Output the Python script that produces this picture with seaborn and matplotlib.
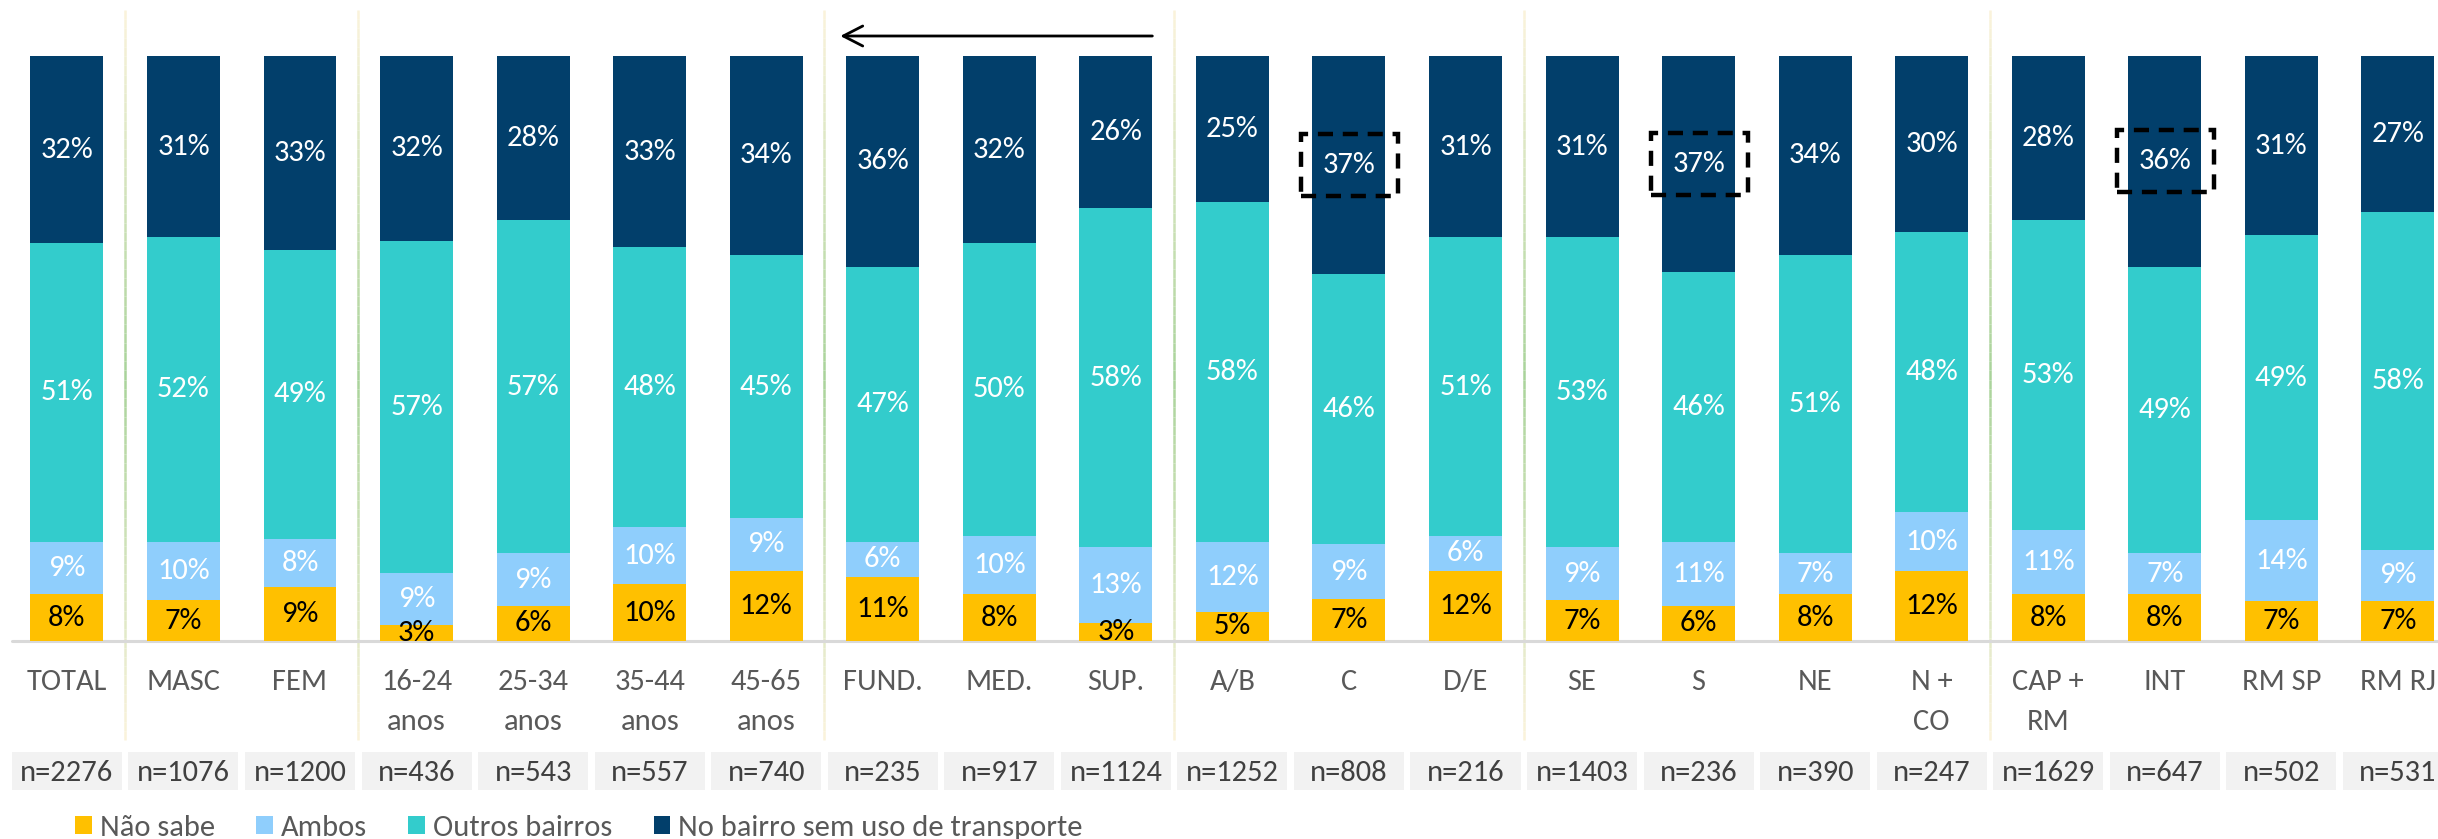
import numpy as np
import pandas as pd
import matplotlib
matplotlib.use("Agg")
import matplotlib.pyplot as plt
import seaborn as sns
from matplotlib import font_manager
from matplotlib.transforms import blended_transform_factory
from matplotlib.patches import Rectangle, Patch
from matplotlib.collections import LineCollection
from matplotlib.colors import to_rgb

# ---------------- data ----------------
categories = ['TOTAL', 'MASC', 'FEM', '16-24\nanos', '25-34\nanos', '35-44\nanos',
              '45-65\nanos', 'FUND.', 'MED.', 'SUP.', 'A/B', 'C', 'D/E', 'SE', 'S',
              'NE', 'N +\nCO', 'CAP +\nRM', 'INT', 'RM SP', 'RM RJ']
sample_sizes = ['n=2276', 'n=1076', 'n=1200', 'n=436', 'n=543', 'n=557', 'n=740',
                'n=235', 'n=917', 'n=1124', 'n=1252', 'n=808', 'n=216', 'n=1403',
                'n=236', 'n=390', 'n=247', 'n=1629', 'n=647', 'n=502', 'n=531']

series_names = ['Não sabe', 'Ambos', 'Outros bairros', 'No bairro sem uso de transporte']
nao_sabe = [8, 7, 9.3, 2.8, 6, 9.7, 12, 11, 8, 3, 5, 7.2, 12, 7, 6, 8, 12, 8, 8, 6.8, 6.8]
ambos = [9, 10, 8.2, 8.8, 9, 9.8, 9, 6, 10, 13, 12, 9.3, 6, 9, 11, 7, 10, 11, 7, 13.8, 8.8]
outros_bairros = [51, 52, 49.3, 56.8, 57, 47.8, 45, 47, 50, 58, 58, 46.3, 51, 53, 46, 51,
                  48, 53, 49, 48.8, 57.8]
no_bairro = [32, 31, 33.2, 31.6, 28, 32.7, 34, 36, 32, 26, 25, 37.2, 31, 31, 37, 34, 30,
             28, 36, 30.6, 26.6]
highlighted = ['C', 'S', 'INT']          # top-segment labels framed with a dashed box
group_breaks_after = ['TOTAL', 'FEM', '45-65\nanos', 'SUP.', 'D/E', 'N +\nCO']
arrow_span = ('SUP.', 'FUND.')           # arrow drawn from right to left above these

series_values = [nao_sabe, ambos, outros_bairros, no_bairro]
series_colors = ['#FFC000', '#8FCEFC', '#33CCCC', '#023F6B']
label_colors = ['#000000', '#FFFFFF', '#FFFFFF', '#FFFFFF']

# ---------------- style ----------------
sns.set_style("white")
available = {f.name for f in font_manager.fontManager.ttflist}
FONT, FS = 'Lato', 20
for cand, size in [('Carlito', 22), ('Liberation Sans Narrow', 22), ('Lato', 20)]:
    if cand in available:
        FONT, FS = cand, size
        break
plt.rcParams['font.family'] = [FONT, 'DejaVu Sans']

W, H = 2438, 839
fig = plt.figure(figsize=(W / 100, H / 100), dpi=100)
fig.patch.set_facecolor('white')
base_px, top_px = 641, 56
ax = fig.add_axes([0, (H - base_px) / H, 1, (base_px - top_px) / H])

n = len(categories)
bottom = np.zeros(n)
for name, vals, col in zip(series_names, series_values, series_colors):
    sns.barplot(x=categories, y=vals, color=col, saturation=1, width=0.626,
                bottom=bottom.copy(), ax=ax, errorbar=None, linewidth=0, order=categories)
    bottom = bottom + np.asarray(vals, dtype=float)

for cont, vals, tc in zip(ax.containers, series_values, label_colors):
    ax.bar_label(cont, labels=[f'{v:.0f}%' for v in vals], label_type='center',
                 color=tc, fontsize=FS)

spacing_px = 116.55
first_px = 66.9
ax.set_xlim(-first_px / spacing_px, -first_px / spacing_px + W / spacing_px)
ax.set_ylim(0, 100)
for s in ax.spines.values():
    s.set_visible(False)
ax.set_yticks([])
ax.set_ylabel('')
ax.set_xticks(range(n))
ax.set_xticklabels(categories, color='#595959', fontsize=FS)
for t in ax.get_xticklabels():
    t.set_linespacing(1.7)
ax.tick_params(axis='x', length=0, pad=20)
ax.axhline(0, xmin=12 / W, xmax=1, color='#D9D9D9', lw=2.2, zorder=0.5, clip_on=False)

trans = blended_transform_factory(ax.transData, fig.transFigure)

def fy(px):
    return 1 - px / H

# sample-size boxes
for i, lab in enumerate(sample_sizes):
    ax.add_patch(Rectangle((i - 0.472, fy(790)), 0.944, fy(752) - fy(790), transform=trans,
                           facecolor='#F2F2F2', edgecolor='none', clip_on=False, zorder=1))
    ax.text(i, fy(773), lab, transform=trans, ha='center', va='center',
            fontsize=FS, color='#404040', clip_on=False)

# faint gradient separators between groups
c_end = np.array(to_rgb('#FBF3DC'))
c_mid = np.array(to_rgb('#A9D39A'))
ys = np.linspace(10, 740, 80)
for brk in group_breaks_after:
    xb = categories.index(brk) + 0.5
    segs, cols = [], []
    for a, b in zip(ys[:-1], ys[1:]):
        segs.append([(xb, fy(a)), (xb, fy(b))])
        t = ((a + b) / 2 - 10) / 730
        w = 1 - abs(t - 0.5) * 2
        cols.append(c_end * (1 - w) + c_mid * w)
    lc = LineCollection(segs, colors=cols, linewidths=1.8, transform=trans, zorder=0.3)
    lc.set_clip_on(False)
    ax.add_collection(lc)

# dashed highlight boxes
for cat in highlighted:
    i = categories.index(cat)
    yc = bottom[i] - no_bairro[i] / 2
    ax.add_patch(Rectangle((i - 0.41, yc - 5.3), 0.83, 10.6, fill=False, edgecolor='black',
                           lw=3.2, linestyle=(0, (3.4, 2.2)), zorder=5, clip_on=False))

# arrow above education group
x_tail = categories.index(arrow_span[0]) + 36.5 / spacing_px
x_tip = categories.index(arrow_span[1]) - 42.5 / spacing_px
ax.annotate('', xy=(x_tip, fy(36)), xycoords=trans, xytext=(x_tail, fy(36)), textcoords=trans,
            arrowprops=dict(arrowstyle='->,head_length=0.7,head_width=0.36', lw=2,
                            color='black', shrinkA=0, shrinkB=0, mutation_scale=20),
            annotation_clip=False)

handles = [Patch(facecolor=c, edgecolor='none') for c in series_colors]
fig.legend(handles, series_names, loc='center left', bbox_to_anchor=(75 / W, fy(828)),
           ncol=4, frameon=False, fontsize=FS, handlelength=0.55, handleheight=0.55,
           handletextpad=0.26, columnspacing=1.35, borderpad=0, borderaxespad=0,
           labelcolor='#595959')

fig.savefig('out.png', dpi=100, facecolor='white')
